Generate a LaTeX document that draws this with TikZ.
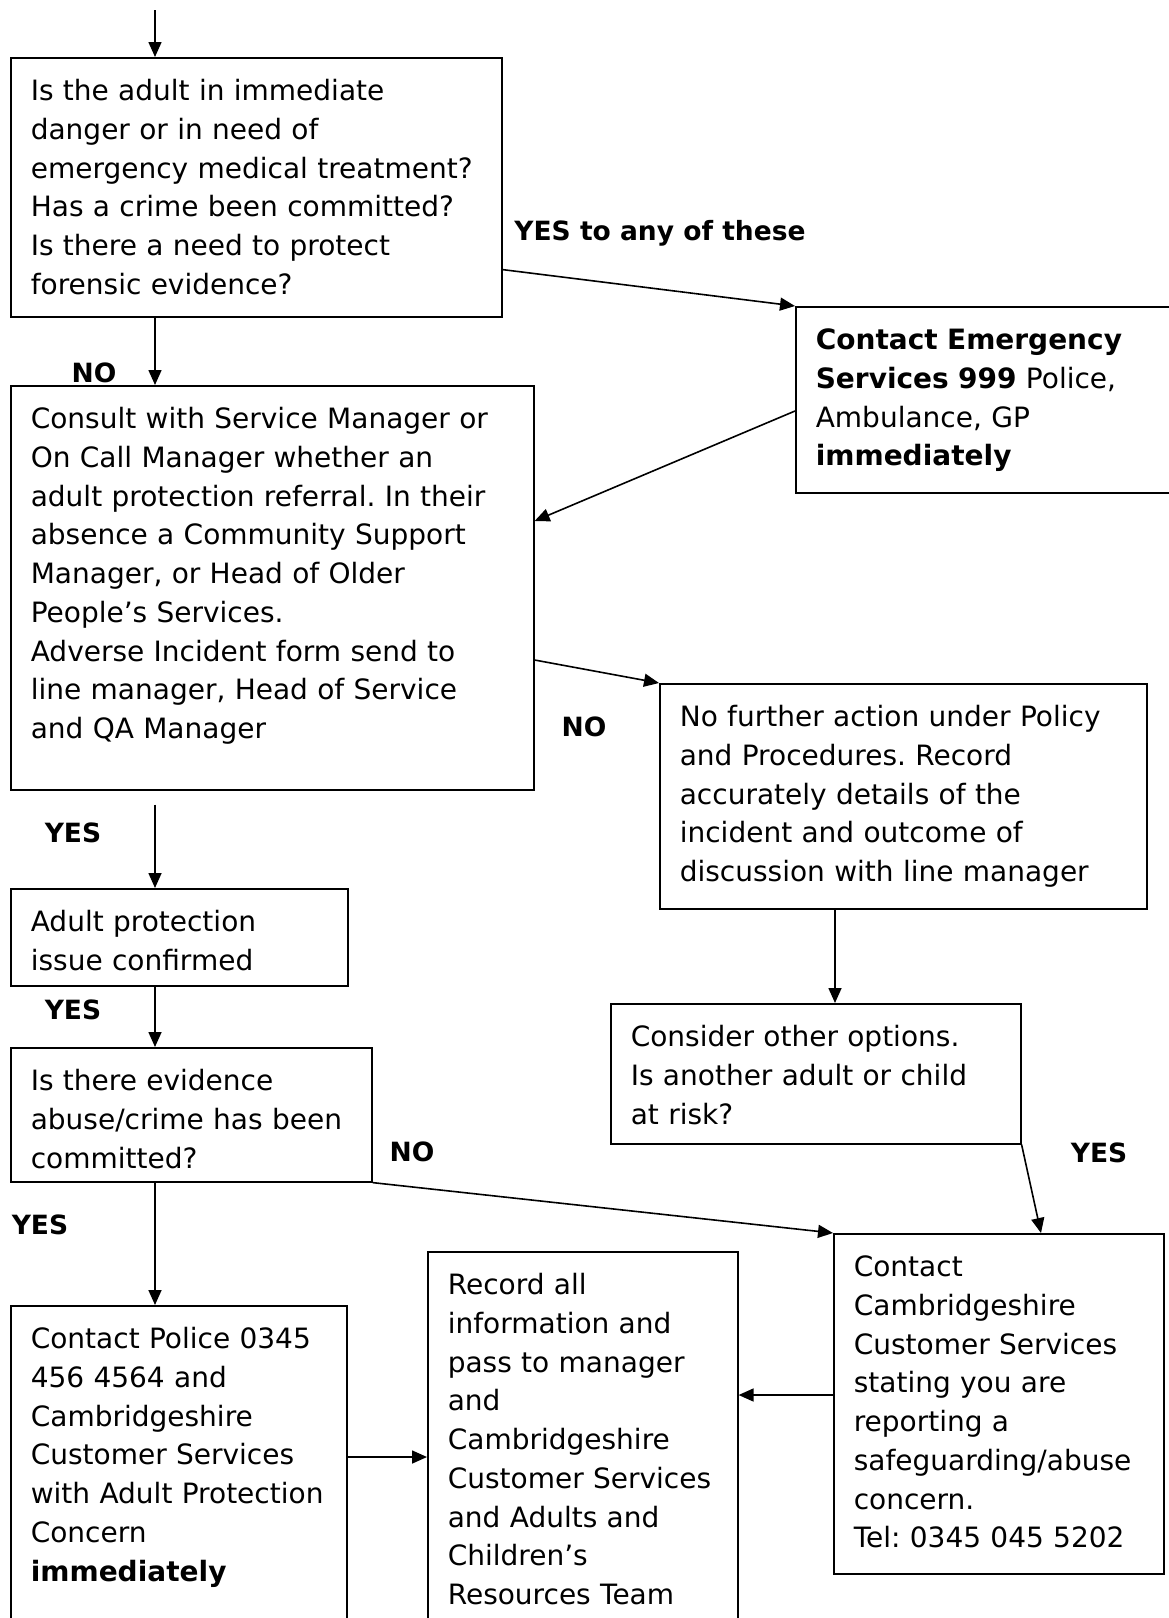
\documentclass[tikz,border=0pt]{standalone}
\usepackage{fontspec}
\setmainfont{DejaVu Sans}
\usetikzlibrary{arrows.meta}
\usetikzlibrary{calc}
\frenchspacing

\begin{document}
\begin{tikzpicture}[
x=1pt, y=-1pt,
flowbox/.style={draw, line width=1.6pt, anchor=north west, align=left, inner xsep=20pt, inner ysep=20pt, text height=23pt, font=\fontsize{28}{38.7}\selectfont},
answer/.style={font=\fontsize{26.5}{33}\selectfont\bfseries},
flowarrow/.style={-{Triangle[length=15pt,width=13pt]}, line width=1.6pt},
]
\useasboundingbox (0,0) rectangle (1168,1618);

% Guide columns for the vertical arrows
\coordinate (start) at (155,10);
\coordinate (spine) at (155,0);
\coordinate (col) at (835,0);

% Left column
\node[flowbox, text width=451pt, text depth=196pt] (danger) at (10,57)
  {Is the adult in immediate\\ danger or in need of\\ emergency medical treatment?\\ Has a crime been committed?\\ Is there a need to protect\\ forensic evidence?};
\node[flowbox, text width=483pt, text depth=341pt] (consult) at (10,385)
  {Consult with Service Manager or\\ On Call Manager whether an\\ adult protection referral. In their\\ absence a Community Support\\ Manager, or Head of Older\\ People’s Services.\\ Adverse Incident form send to\\ line manager, Head of Service\\ and QA Manager};
\node[flowbox, text width=297pt, text depth=34pt] (confirmed) at (10,888)
  {Adult protection\\ issue confirmed};
\node[flowbox, text width=321pt, text depth=71pt] (evidence) at (10,1047)
  {Is there evidence\\ abuse/crime has been\\ committed?};
\node[flowbox, text width=296pt, text depth=297pt] (police) at (10,1305)
  {Contact Police 0345\\ 456 4564 and\\ Cambridgeshire\\ Customer Services\\ with Adult Protection\\ Concern\\ \textbf{immediately}};

% Right column
\node[flowbox, text width=380pt, text depth=123pt] (emergency) at (795,306)
  {\textbf{Contact Emergency}\\ \textbf{Services 999} Police,\\ Ambulance, GP\\ \textbf{immediately}};
\node[flowbox, text width=447pt, text depth=162pt] (nofurther) at (659,683)
  {No further action under Policy\\ and Procedures. Record\\ accurately details of the\\ incident and outcome of\\ discussion with line manager};
\node[flowbox, text width=370pt, text depth=77pt] (options) at (610,1003)
  {Consider other options.\\ Is another adult or child\\ at risk?};
\node[flowbox, text width=290pt, text depth=277pt] (customer) at (833,1233)
  {Contact\\ Cambridgeshire\\ Customer Services\\ stating you are\\ reporting a\\ safeguarding/abuse\\ concern.\\ Tel: 0345 045 5202};
\node[flowbox, text width=270pt, text depth=337pt] (record) at (427,1251)
  {Record all\\ information and\\ pass to manager\\ and\\ Cambridgeshire\\ Customer Services\\ and Adults and\\ Children’s\\ Resources Team};

% Answers
\node[answer] (yesany) at (660,233) {YES to any of these};
\node[answer] (no1) at (94,373) {NO};
\node[answer] (no2) at (584,727) {NO};
\node[answer] (yes1) at (73,833) {YES};
\node[answer] (yes2) at (73,1010) {YES};
\node[answer] (no3) at (412,1152) {NO};
\node[answer] (yes3) at (1099,1153) {YES};
\node[answer] (yes4) at (40,1225) {YES};

% Connectors
\draw[flowarrow] (start) -- (danger.north -| start);
\draw[flowarrow] ($(danger.south east)+(0,-48)$) -- (emergency.north west);
\draw[flowarrow] (danger.south -| spine) -- (consult.north -| spine);
\draw[flowarrow] ($(emergency.north west)+(0,105)$) -- ($(consult.north east)+(0,136)$);
\draw[flowarrow] ($(consult.north east)+(0,275)$) -- (nofurther.north west);
\draw[flowarrow] ($(consult.south -| spine)+(0,14)$) -- (confirmed.north -| spine);
\draw[flowarrow] (confirmed.south -| spine) -- (evidence.north -| spine);
\draw[flowarrow] (evidence.south -| spine) -- (police.north -| spine);
\draw[flowarrow] (evidence.south east) -- (customer.north west);
\draw[flowarrow] (nofurther.south -| col) -- (options.north -| col);
\draw[flowarrow] (options.south east) -- ($(customer.north west)+(208,0)$);
\draw[flowarrow] ($(police.north east)+(0,152)$) coordinate (pout) -- (pout -| record.west);
\draw[flowarrow] ($(customer.north west)+(0,162)$) coordinate (cout) -- (cout -| record.east);
\end{tikzpicture}
\end{document}
